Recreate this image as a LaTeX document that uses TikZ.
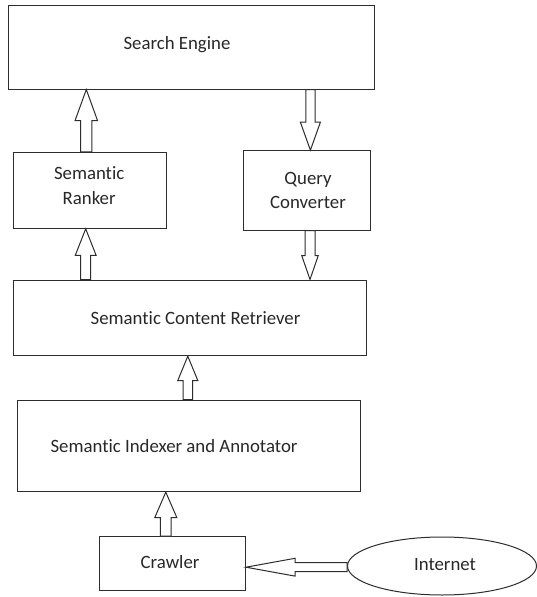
\documentclass[tikz,border=0pt]{standalone}
\usepackage{fontspec}
\setmainfont{Carlito}[Ligatures=NoCommon,RawFeature=-liga]
\usetikzlibrary{calc,shapes.geometric}
\definecolor{ln}{RGB}{45,45,45}
\definecolor{tx}{RGB}{40,40,40}
\newcommand{\myti}{t\kern0pt i}
\newcommand{\blkarr}[5]{%
  \coordinate (hb) at ($(#2)!#5!(#1)$);
  \draw[blockarrow] ($(#1)!#3!90:(#2)$) -- ($(hb)!#3!90:(#2)$) -- ($(hb)!#4!90:(#2)$) -- (#2)
    -- ($(hb)!#4!-90:(#2)$) -- ($(hb)!#3!-90:(#2)$) -- ($(#1)!#3!-90:(#2)$) -- cycle;
}
\begin{document}
\begin{tikzpicture}[x=1pt,y=-1pt,
  box/.style={draw=ln,line width=1pt,rectangle,inner sep=0pt},
  txt/.style={font=\fontsize{18.8}{24.5}\selectfont,text=tx,align=center,inner sep=0pt},
  blockarrow/.style={draw=ln,line width=1pt,fill=white,line join=miter}]
\useasboundingbox[fill=white] (0,0) rectangle (537,597);

\node[box,minimum width=366.4pt,minimum height=83.3pt,
  label={[txt,xshift=-14.5pt,yshift=2.3pt]center:Search Engine}] (se) at (191.5,47.35) {};
\node[box,minimum width=152.7pt,minimum height=76pt,
  label={[txt,xshift=-0.5pt,yshift=4.8pt]center:Seman\myti c\\Ranker}] (ranker) at (89.65,190.3) {};
\node[box,minimum width=127pt,minimum height=79.3pt,
  label={[txt,xshift=1.5pt,yshift=0pt]center:Query\\Converter}] (qc) at (306.5,190.35) {};
\node[box,minimum width=353.4pt,minimum height=75.7pt,
  label={[txt,xshift=5.5pt,yshift=0pt]center:Seman\myti c Content Retriever}] (ret) at (190,317.85) {};
\node[box,minimum width=342.7pt,minimum height=91.7pt,
  label={[txt,xshift=-14.6pt,yshift=0pt]center:Seman\myti c Indexer and Annotator}] (idx) at (188.65,445.85) {};
\node[box,minimum width=146.5pt,minimum height=54pt,
  label={[txt,xshift=-2.2pt,yshift=1.7pt]center:Crawler}] (crawler) at (172.25,563.7) {};
\node[draw=ln,line width=1pt,ellipse,minimum width=189pt,minimum height=58pt,inner sep=0pt,
  label={[txt,xshift=3pt,yshift=1pt]center:Internet}] (net) at (442,566) {};

% Ranker -> Search Engine
\coordinate (a1s) at (ranker.north -| 86.3,0);
\coordinate (a1t) at (se.south -| 86.3,0);
\blkarr{a1s}{a1t}{5.6pt}{11.2pt}{31pt}
% Search Engine -> Query Converter
\coordinate (a2s) at (se.south -| 310.4,0);
\coordinate (a2t) at (qc.north -| 310.4,0);
\blkarr{a2s}{a2t}{4.6pt}{10pt}{28pt}
% Retriever -> Ranker
\coordinate (a3s) at (ret.north -| 85.7,0);
\coordinate (a3t) at (ranker.south -| 85.7,0);
\blkarr{a3s}{a3t}{5pt}{10.4pt}{26.5pt}
% Query Converter -> Retriever
\coordinate (a4s) at (qc.south -| 310,0);
\coordinate (a4t) at (ret.north -| 310,0);
\blkarr{a4s}{a4t}{5pt}{8.3pt}{24pt}
% Indexer -> Retriever
\coordinate (a5s) at (idx.north -| 187.8,0);
\coordinate (a5t) at (ret.south -| 187.8,0);
\blkarr{a5s}{a5t}{4.7pt}{10.1pt}{24.5pt}
% Crawler -> Indexer
\coordinate (a6s) at (crawler.north -| 165.8,0);
\coordinate (a6t) at (idx.south -| 165.8,0);
\blkarr{a6s}{a6t}{5.4pt}{11.1pt}{25.5pt}
% Internet -> Crawler
\coordinate (a7s) at (net.west |- 0,567.2);
\coordinate (a7t) at (crawler.east |- 0,567.2);
\blkarr{a7s}{a7t}{4.5pt}{8.9pt}{49pt}
\end{tikzpicture}
\end{document}
